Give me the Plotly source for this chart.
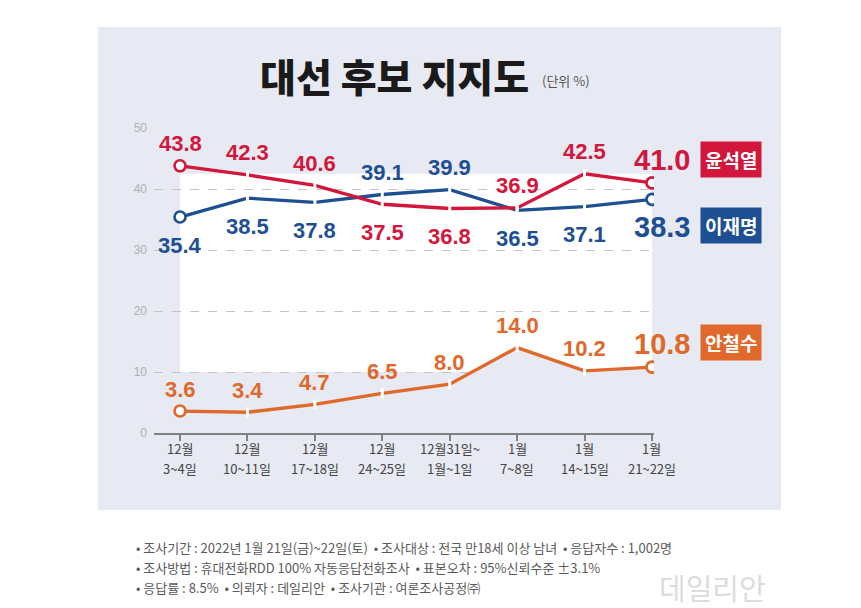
import plotly.graph_objects as go

# ---------------- data ----------------
categories = ["12월<br>3~4일", "12월<br>10~11일", "12월<br>17~18일", "12월<br>24~25일",
              "12월31일~<br>1월~1일", "1월<br>7~8일", "1월<br>14~15일", "1월<br>21~22일"]
yoon = [43.8, 42.3, 40.6, 37.5, 36.8, 36.9, 42.5, 41.0]
lee = [35.4, 38.5, 37.8, 39.1, 39.9, 36.5, 37.1, 38.3]
ahn = [3.6, 3.4, 4.7, 6.5, 8.0, 14.0, 10.2, 10.8]
names = ["윤석열", "이재명", "안철수"]
y_ticks = [0, 10, 20, 30, 40, 50]
title_text = "대선 후보 지지도"
unit_text = "(단위 %)"
notes = [
    "• 조사기간 : 2022년 1월 21일(금)~22일(토)  • 조사대상 : 전국 만18세 이상 남녀  • 응답자수 : 1,002명",
    "• 조사방법 : 휴대전화RDD 100% 자동응답전화조사  • 표본오차 : 95%신뢰수준 ±3.1%",
    "• 응답률 : 8.5%  • 의뢰자 : 데일리안  • 조사기관 : 여론조사공정㈜",
]
watermark = "데일리안"

# label placement per point (style)
yoon_pos = ["up", "up", "up", "down", "down", "up", "up", "up"]
lee_pos = ["down", "down", "down", "up", "up", "down", "down", "down"]
ahn_pos = ["up"] * 8

# ---------------- style ----------------
RED = "#d3163c"
BLUE = "#1d4f92"
ORANGE = "#e0682a"
PANEL = "#e7eaf2"
NUM_FONT = "Liberation Sans, Arial, sans-serif"
KR_FONT = "Noto Sans CJK KR, sans-serif"

L, R, T, B = 154, 207, 128, 175
W, H = 861, 608
PW = W - L - R
PH = H - T - B


def px(x):
    return (x - L) / PW


def py(y):
    return (H - B - y) / PH


fig = go.Figure()

series = [(yoon, RED, yoon_pos), (lee, BLUE, lee_pos), (ahn, ORANGE, ahn_pos)]

for vals, col, _ in series[::-1]:
    is_ahn = vals is ahn
    fig.add_trace(go.Scatter(
        x=categories, y=vals, mode="lines",
        line=dict(color=col, width=3.3),
        fill="tozeroy" if is_ahn else None,
        fillcolor=PANEL if is_ahn else None,
        hoverinfo="skip", showlegend=False))

for vals, col, _ in series:
    fig.add_trace(go.Scatter(
        x=categories[1:-1], y=vals[1:-1], mode="markers",
        marker=dict(symbol="line-ns", size=7, line=dict(color="white", width=3)),
        hoverinfo="skip", showlegend=False))

for vals, col, _ in series:
    fig.add_trace(go.Scatter(
        x=[categories[0], categories[-1]], y=[vals[0], vals[-1]], mode="markers",
        marker=dict(symbol="circle", size=11, color="white", line=dict(color=col, width=2.6)),
        hoverinfo="skip", showlegend=False))

annotations = []
shift = {"up": 22, "down": -28}
for vals, col, pos in series:
    for i, (v, p) in enumerate(zip(vals, pos)):
        last = i == len(vals) - 1
        annotations.append(dict(
            x=categories[i], y=v, xref="x", yref="y", text=f"{v:.1f}", showarrow=False,
            font=dict(family=NUM_FONT, size=29 if last else 22, color=col, weight="bold"),
            xanchor="center", yanchor="middle",
            xshift=10 if last else 0, yshift=shift[p] + (1 if last and p == "up" else 0)))

# x category labels (two lines each)
for i, c in enumerate(categories):
    l1, l2 = c.split("<br>")
    for t, yshift in ((l1, -15), (l2, -35)):
        annotations.append(dict(
            x=categories[i], y=0, xref="x", yref="y", text=t, showarrow=False,
            xanchor="center", yanchor="middle", yshift=yshift,
            font=dict(family=KR_FONT, size=13, color="#444444")))

for name, col, ypix in zip(names, [RED, BLUE, ORANGE], [159, 225, 342]):
    annotations.append(dict(
        x=px(731), y=py(ypix), xref="paper", yref="paper", text=f"<b>{name}</b>",
        showarrow=False, bgcolor=col, borderpad=4, xanchor="center", yanchor="middle",
        font=dict(family=KR_FONT, size=19, color="white")))

annotations.append(dict(x=px(394), y=py(75), xref="paper", yref="paper",
                        text=title_text, showarrow=False, xanchor="center", yanchor="middle",
                        font=dict(family=KR_FONT, size=39, color="#1a1a1a", weight=900)))
annotations.append(dict(x=px(540), y=py(81), xref="paper", yref="paper",
                        text=unit_text, showarrow=False, xanchor="left", yanchor="middle",
                        font=dict(family=KR_FONT, size=13, color="#555555")))

for t, ypix in zip(notes, [547, 567, 587]):
    annotations.append(dict(x=px(134), y=py(ypix), xref="paper", yref="paper", text=t,
                            showarrow=False, xanchor="left", yanchor="middle",
                            font=dict(family=KR_FONT, size=13, color="#5a5a5a")))

annotations.append(dict(x=px(712), y=py(587), xref="paper", yref="paper", text=watermark,
                        showarrow=False, xanchor="center", yanchor="middle",
                        font=dict(family=KR_FONT, size=29, color="#dcdcdc")))

shapes = [
    dict(type="rect", xref="paper", yref="paper", x0=px(98), x1=px(781), y0=py(510), y1=py(27),
         fillcolor=PANEL, line=dict(width=0), layer="below"),
    dict(type="rect", xref="x", yref="y", x0=0, x1=7, y0=10, y1=42.5,
         fillcolor="white", line=dict(width=0), layer="below"),
]

fig.update_layout(
    width=W, height=H, margin=dict(l=L, r=R, t=T, b=B),
    paper_bgcolor="white", plot_bgcolor="rgba(0,0,0,0)",
    annotations=annotations, shapes=shapes, showlegend=False,
    xaxis=dict(type="category", range=[-0.386, 7.03], showgrid=False, zeroline=False,
               showline=True, linecolor="#808080", linewidth=2, showticklabels=False,
               ticks="outside", ticklen=6, tickwidth=1.5, tickcolor="#808080"),
    yaxis=dict(range=[0, 50], tickvals=y_ticks, showgrid=True, gridcolor="#c4c4c4",
               griddash="dash", gridwidth=1, zeroline=False, showline=False,
               ticks="", ticklabelstandoff=6,
               tickfont=dict(family=NUM_FONT, size=12, color="#b0b0b0")),
)

fig.write_html("out.html", config={"displayModeBar": False},
               post_script="document.body.style.margin='0';document.body.style.overflow='hidden';")
